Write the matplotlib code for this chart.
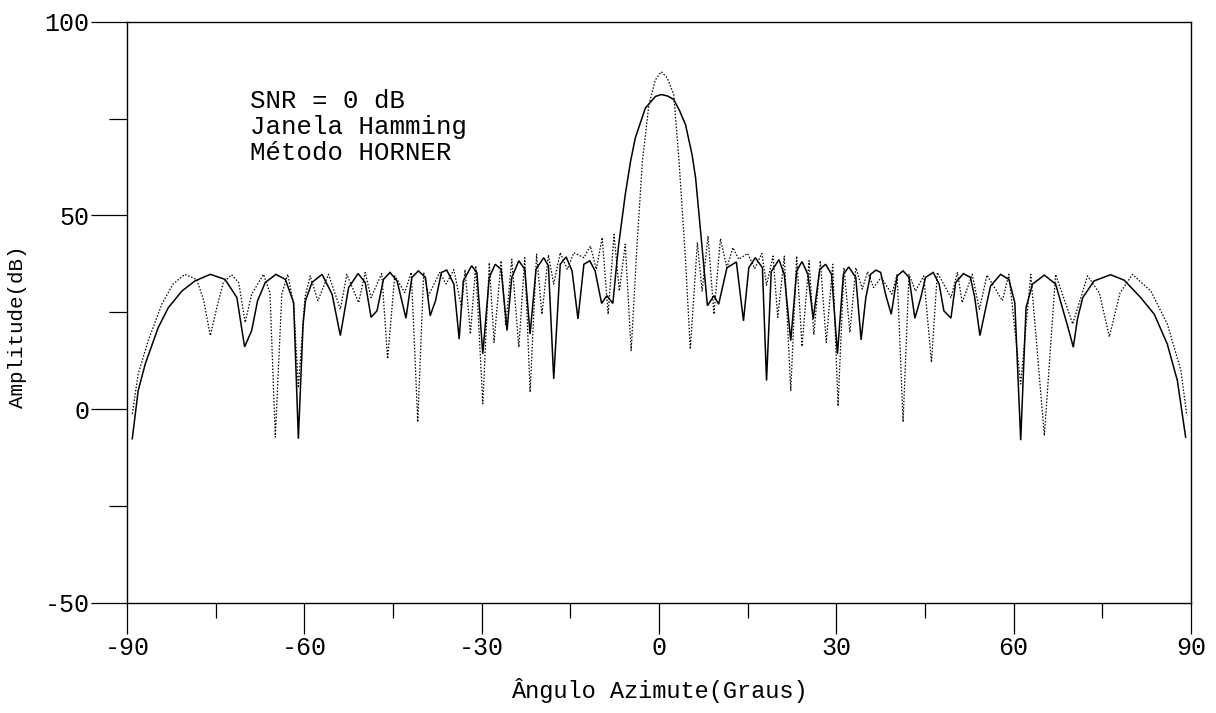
import matplotlib
matplotlib.use("Agg")
import matplotlib.pyplot as plt
from matplotlib.ticker import MultipleLocator

plt.rcParams['font.family'] = ['Liberation Mono', 'DejaVu Sans Mono']
plt.rcParams['axes.unicode_minus'] = False

# Solid curve (angle in degrees, amplitude in dB)
solid_ang = [-89.1, -88.1, -86.9, -84.7, -83.0, -80.7, -78.5, -75.9, -73.4, -71.4,
             -70.1, -68.9, -67.9, -66.6, -64.8, -63.2, -61.8, -61.0, -60.2, -59.8,
             -58.7, -57.0, -55.3, -53.9, -52.5, -50.9, -49.7, -48.7, -47.7, -46.6,
             -45.5, -44.3, -42.8, -41.8, -40.7, -39.5, -38.7, -37.8, -36.8, -35.9,
             -34.7, -33.8, -33.1, -31.7, -30.8, -29.8, -28.7, -27.7, -26.7, -25.7,
             -24.9, -23.7, -22.7, -21.8, -20.8, -19.5, -18.7, -17.8, -16.7, -15.7,
             -14.7, -13.7, -12.7, -11.7, -10.8, -9.7, -8.8, -7.8, -7.1, -6.8,
             -5.7, -4.8, -4.0, -2.3, -0.6, 0.4, 1.5, 2.5, 3.5, 4.5,
             5.6, 6.2, 7.0, 7.3, 8.2, 9.3, 10.1, 11.5, 13.1, 14.3,
             15.2, 16.3, 17.5, 18.2, 19.0, 20.3, 21.2, 22.3, 23.3, 24.2,
             25.2, 26.1, 27.2, 28.2, 29.2, 30.2, 31.2, 32.1, 33.3, 34.2,
             35.0, 35.8, 36.7, 37.5, 38.4, 39.3, 40.3, 41.3, 42.3, 43.3,
             44.3, 45.1, 46.4, 47.4, 48.2, 49.4, 50.2, 51.5, 52.7, 53.4,
             54.3, 55.3, 56.1, 57.8, 59.2, 60.2, 61.2, 62.1, 63.2, 65.2,
             67.1, 69.2, 70.1, 70.8, 71.7, 73.6, 76.4, 78.7, 81.5, 83.8,
             86.0, 87.7, 89.1]
solid_db = [-7.6, 4.8, 11.7, 21.1, 26.2, 30.5, 33.1, 34.8, 33.5, 28.8,
            16.1, 20.3, 28.0, 32.7, 34.8, 33.5, 27.5, -7.6, 22.0, 28.0,
            32.7, 34.8, 29.7, 19.0, 31.4, 35.0, 32.7, 23.7, 25.4, 33.5,
            35.3, 33.1, 23.5, 34.0, 35.7, 34.0, 24.1, 28.0, 35.3, 35.9,
            32.3, 18.1, 33.1, 37.0, 35.3, 14.3, 34.0, 37.4, 36.1, 20.3,
            34.0, 38.3, 36.1, 19.4, 36.1, 39.1, 37.0, 7.8, 37.4, 39.3,
            35.7, 23.3, 37.4, 38.3, 35.7, 27.3, 29.3, 27.3, 38.3, 42.6,
            55.4, 64.0, 70.0, 77.7, 80.7, 81.2, 80.8, 79.9, 77.0, 73.4,
            65.7, 59.7, 46.8, 41.7, 26.7, 29.3, 27.1, 36.5, 38.0, 22.8,
            36.5, 39.1, 36.5, 7.4, 35.5, 38.6, 34.8, 17.7, 35.7, 38.1,
            34.8, 23.3, 36.1, 37.4, 34.8, 14.3, 34.8, 36.7, 34.0, 17.9,
            28.8, 34.8, 35.9, 35.3, 29.3, 24.5, 34.4, 35.7, 34.0, 23.5,
            28.8, 34.0, 35.3, 32.3, 25.4, 23.5, 32.7, 35.0, 34.0, 29.0,
            19.0, 26.2, 31.8, 34.8, 33.5, 27.5, -8.0, 26.2, 32.3, 34.6,
            32.3, 21.1, 16.0, 23.3, 28.8, 33.1, 34.7, 33.3, 28.8, 24.5,
            16.8, 7.4, -7.2]

# Dotted curve
dotted_ang = [-89.1, -88.1, -86.4, -84.1, -82.2, -80.2, -78.2, -77.0, -75.9, -74.8,
              -73.7, -72.3, -71.1, -70.0, -68.9, -66.9, -65.8, -64.9, -63.8, -62.8,
              -61.8, -61.0, -59.9, -59.0, -57.7, -55.9, -53.9, -52.8, -50.8, -49.7,
              -48.7, -46.9, -45.9, -44.7, -43.0, -41.9, -40.8, -39.8, -39.0, -37.1,
              -36.0, -34.7, -33.4, -32.8, -31.9, -31.0, -29.8, -28.7, -27.9, -26.7,
              -25.9, -24.9, -23.7, -22.7, -21.8, -20.7, -19.8, -18.7, -17.8, -16.7,
              -15.5, -14.4, -12.7, -11.6, -10.6, -9.6, -8.6, -7.6, -6.7, -5.7,
              -4.7, -3.7, -2.8, -1.7, -0.6, 0.4, 1.4, 2.5, 3.4, 4.5,
              5.3, 6.5, 7.3, 8.3, 9.3, 10.4, 11.5, 12.5, 13.5, 15.0,
              16.2, 17.4, 18.2, 19.3, 20.1, 21.2, 22.3, 23.3, 24.2, 25.4,
              26.2, 27.3, 28.3, 29.4, 30.3, 31.3, 32.3, 33.3, 34.4, 35.3,
              36.3, 37.6, 39.4, 40.3, 41.3, 42.3, 43.4, 44.8, 46.1, 47.1,
              49.4, 50.5, 51.3, 53.0, 54.2, 55.5, 58.1, 59.2, 61.2, 62.9,
              65.2, 67.1, 70.0, 72.5, 74.5, 76.2, 78.0, 80.1, 83.2, 86.0,
              88.3, 89.3]
dotted_db = [-1.2, 9.1, 17.7, 27.1, 32.3, 34.8, 33.5, 28.0, 19.0, 26.2,
             32.7, 34.7, 32.7, 22.4, 29.7, 34.8, 30.0, -7.2, 29.7, 34.8,
             27.1, 5.5, 28.8, 34.4, 28.0, 34.8, 25.8, 34.8, 27.5, 35.3,
             28.8, 35.0, 13.0, 34.4, 30.1, 35.3, -3.3, 35.3, 29.3, 35.3,
             32.3, 36.0, 26.2, 36.0, 19.4, 37.0, 1.4, 37.8, 17.2, 38.3,
             21.5, 38.7, 16.0, 39.1, 4.4, 40.0, 24.5, 39.8, 32.3, 40.4,
             36.1, 40.4, 39.1, 42.1, 36.1, 44.3, 24.5, 45.1, 30.5, 42.6,
             15.1, 42.6, 64.0, 78.6, 85.0, 87.1, 85.5, 81.2, 64.0, 38.3,
             15.5, 43.0, 30.5, 44.7, 24.5, 44.0, 36.5, 41.7, 38.7, 40.2,
             36.3, 40.2, 32.0, 39.5, 23.7, 39.5, 4.8, 39.5, 16.2, 38.3,
             19.2, 38.3, 17.2, 37.4, 0.8, 36.5, 19.8, 36.5, 31.0, 35.5,
             31.4, 34.0, 29.7, 34.8, -3.3, 34.8, 30.5, 34.4, 12.1, 35.3,
             28.8, 35.3, 27.5, 34.8, 25.8, 34.6, 28.0, 34.8, 6.5, 34.8,
             -6.8, 34.8, 22.0, 34.4, 30.0, 18.7, 30.0, 34.8, 30.5, 22.0,
             10.0, -1.6]

x_ticks_major = [-90, -60, -30, 0, 30, 60, 90]
y_ticks_major = [-50, 0, 50, 100]
annotation_lines = ["SNR = 0 dB", "Janela Hamming", "Método HORNER"]

fig = plt.figure(figsize=(12.16, 7.13), dpi=100)
ax = fig.add_axes([0.1044, 0.1543, 0.875, 0.8153])

ax.plot(solid_ang, solid_db, color='black', lw=1.1, solid_joinstyle='miter')
ax.plot(dotted_ang, dotted_db, color='black', lw=0.9, linestyle=(0, (1.2, 1.4)))

ax.set_xlim(-90, 90)
ax.set_ylim(-50, 100)
ax.set_xticks(x_ticks_major)
ax.set_yticks(y_ticks_major)
ax.xaxis.set_minor_locator(MultipleLocator(15))
ax.yaxis.set_minor_locator(MultipleLocator(25))
ax.tick_params(axis='y', which='major', direction='out', length=26, width=0.9,
               labelsize=18, pad=1)
ax.tick_params(axis='y', which='minor', direction='out', length=13, width=0.9)
ax.tick_params(axis='x', which='major', direction='out', length=22, width=0.9,
               labelsize=18, pad=2)
ax.tick_params(axis='x', which='minor', direction='out', length=11, width=0.9)
for s in ax.spines.values():
    s.set_linewidth(1.0)

ax.set_xlabel("Ângulo Azimute(Graus)", fontsize=17, va='center')
ax.xaxis.set_label_coords(0.5, -0.1497)
ax.set_ylabel("Amplitude(dB)", fontsize=15, va='center')
ax.yaxis.set_label_coords(-0.1024, 0.475)

for i, t in enumerate(annotation_lines):
    ax.text(-69.1, 79.6 - i * 6.7, t, fontsize=18.5, va='center', ha='left')

fig.savefig("out.png", dpi=100)
